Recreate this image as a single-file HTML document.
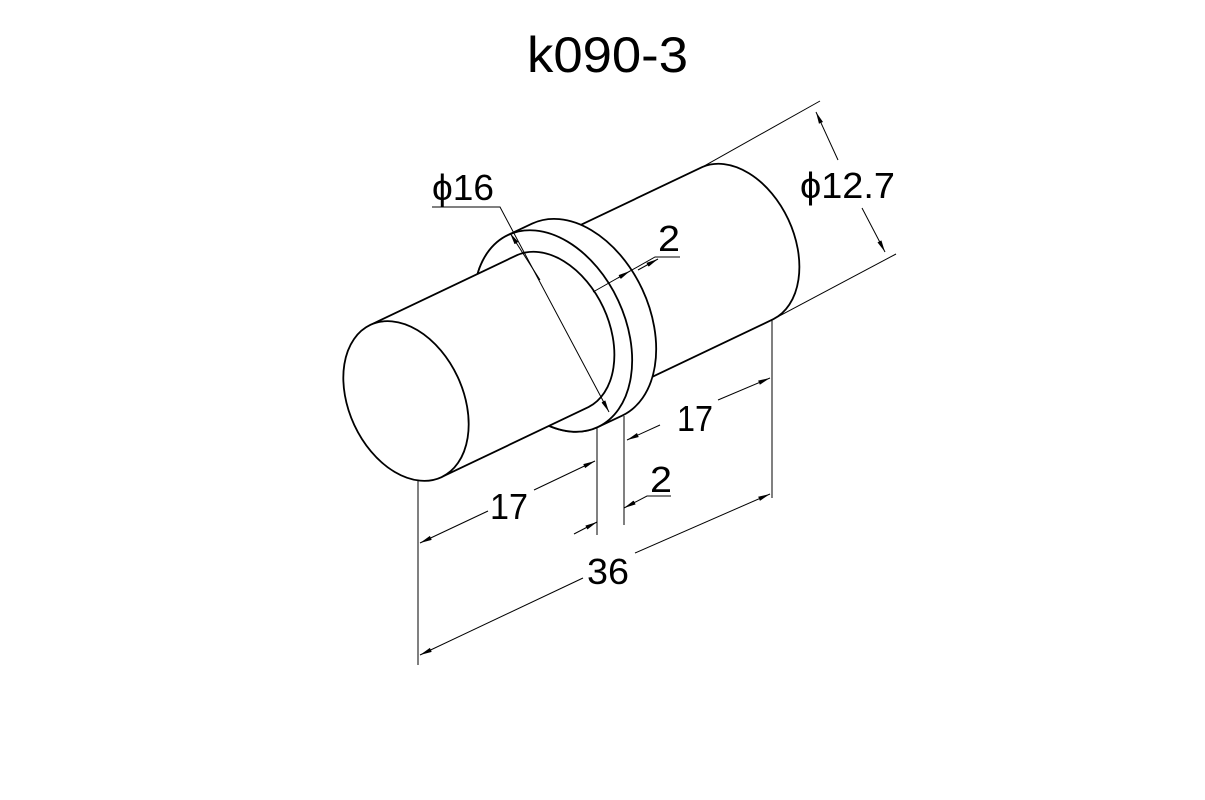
<!DOCTYPE html>
<html><head><meta charset="utf-8"><style>
html,body{margin:0;padding:0;background:#fff;}
svg{display:block;}
text{font-family:"Liberation Sans","DejaVu Sans",sans-serif;fill:#000;}
</style></head><body>
<svg width="1205" height="800" viewBox="0 0 1205 800" xmlns="http://www.w3.org/2000/svg">
<defs>
<marker id="ar" viewBox="0 0 12 6" refX="12" refY="3" markerWidth="12" markerHeight="6" markerUnits="userSpaceOnUse" orient="auto-start-reverse">
<path d="M0,0.8 L12,3 L0,5.2 Z" fill="#000"/>
</marker>
</defs>
<text x="527" y="72" font-size="50" textLength="161" lengthAdjust="spacingAndGlyphs">k090-3</text>

<g stroke="#000" stroke-width="1.8" fill="#fff" stroke-linejoin="round">
<!-- right cylinder -->
<path d="M541.5,243.6 L702.5,166.9 A84 57 65 0 1 773.5,319.1 L612.5,395.8 A84 57 65 0 1 541.5,243.6 Z"/>
<!-- flange -->
<path d="M508.2,234.9 L532.2,223.6 A106 72 65 0 1 621.8,415.8 L597.8,427.1 A106 72 65 0 1 508.2,234.9 Z"/>
<ellipse cx="553" cy="331" rx="106" ry="72" transform="rotate(65 553 331)"/>
<!-- left cylinder -->
<path d="M370.5,324.9 L517.5,254.9 A84 57 65 0 1 588.5,407.1 L441.5,477.1 A84 57 65 0 1 370.5,324.9 Z"/>
<ellipse cx="406" cy="401" rx="84" ry="57" transform="rotate(65 406 401)"/>
</g>

<g stroke="#000" stroke-width="1" fill="none">
<!-- extension lines -->
<line x1="702.5" y1="166.9" x2="820" y2="101"/>
<line x1="773.5" y1="319.1" x2="896" y2="254"/>
<line x1="418" y1="480" x2="418" y2="665"/>
<line x1="597" y1="427" x2="597" y2="535"/>
<line x1="624" y1="416" x2="624" y2="525"/>
<line x1="772" y1="320" x2="772" y2="498"/>
<!-- phi 12.7 -->
<line x1="838" y1="160" x2="816" y2="112" marker-end="url(#ar)"/>
<line x1="862" y1="208" x2="885" y2="252" marker-end="url(#ar)"/>
<!-- phi 16 -->
<polyline points="432,207 500,207 609,412" marker-end="url(#ar)"/>
<line x1="540" y1="280" x2="510" y2="233" marker-end="url(#ar)"/>
<!-- 2 upper -->
<polyline points="680,257 655,257 593,292"/>
<line x1="630" y1="271" x2="618" y2="278" marker-start="url(#ar)" />
<line x1="658" y1="259" x2="638" y2="270" marker-start="url(#ar)"/>
<!-- 17 right -->
<line x1="660" y1="425" x2="627" y2="440" marker-end="url(#ar)"/>
<line x1="718" y1="400" x2="770" y2="378" marker-end="url(#ar)"/>
<!-- 17 left -->
<line x1="488" y1="511" x2="420" y2="543" marker-end="url(#ar)"/>
<line x1="534" y1="490" x2="595" y2="461" marker-end="url(#ar)"/>
<!-- 2 lower -->
<line x1="574" y1="534" x2="597" y2="522" marker-end="url(#ar)"/>
<polyline points="671,496 647,496 624,508" marker-end="url(#ar)"/>
<!-- 36 -->
<line x1="583" y1="578" x2="420" y2="655" marker-end="url(#ar)"/>
<line x1="635" y1="553" x2="770" y2="494" marker-end="url(#ar)"/>
</g>

<g font-size="36">
<text x="800" y="198" textLength="95" lengthAdjust="spacingAndGlyphs">ϕ12.7</text>
<text x="432" y="200" textLength="62" lengthAdjust="spacingAndGlyphs">ϕ16</text>
<text x="658" y="251" textLength="22" lengthAdjust="spacingAndGlyphs">2</text>
<text x="677" y="431" textLength="36" lengthAdjust="spacingAndGlyphs">17</text>
<text x="490" y="519" textLength="38" lengthAdjust="spacingAndGlyphs">17</text>
<text x="650" y="492" textLength="22" lengthAdjust="spacingAndGlyphs">2</text>
<text x="587" y="584" textLength="42" lengthAdjust="spacingAndGlyphs">36</text>
</g>
</svg>
</body></html>
